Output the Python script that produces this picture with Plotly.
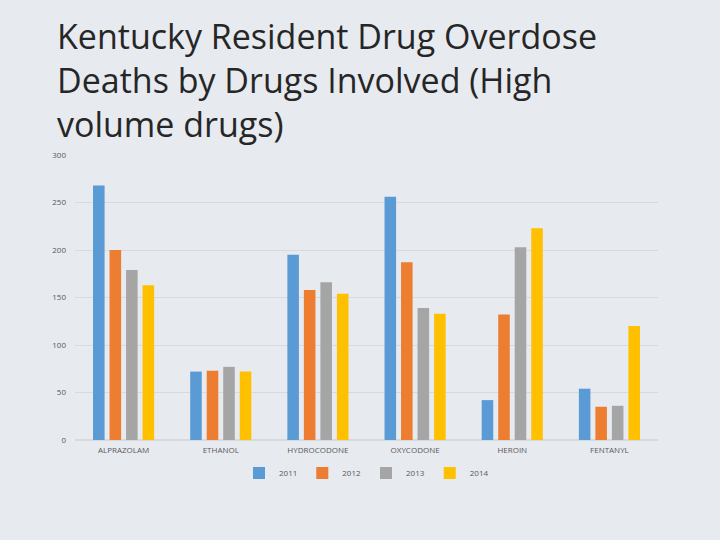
import plotly.graph_objects as go

categories = ["ALPRAZOLAM", "ETHANOL", "HYDROCODONE", "OXYCODONE", "HEROIN", "FENTANYL"]
years = ["2011", "2012", "2013", "2014"]
v2011 = [268, 72, 195, 256, 42, 54]
v2012 = [200, 73, 158, 187, 132, 35]
v2013 = [179, 77, 166, 139, 203, 36]
v2014 = [163, 72, 154, 133, 223, 120]
colors = ["#5B9BD5", "#ED7D31", "#A5A5A5", "#FFC000"]
title_text = "Kentucky Resident Drug Overdose<br>Deaths by Drugs Involved (High<br>volume drugs)"

fig = go.Figure()
for name, vals, c in zip(years, [v2011, v2012, v2013, v2014], colors):
    fig.add_trace(go.Bar(x=categories, y=vals, name=name, marker_color=c, marker_line_width=0))

fig.add_annotation(text=title_text, xref="paper", yref="paper", x=-0.034, y=1.507,
                   xanchor="left", yanchor="top", align="left", showarrow=False,
                   font=dict(family="Open Sans", size=34, color="#262626"))

fig.update_layout(
    width=720, height=540,
    paper_bgcolor="#E7EAEF", plot_bgcolor="#E7EAEF",
    margin=dict(l=75, r=62, t=155, b=100),
    barmode="group", bargap=0.32, bargroupgap=0.3,
    font=dict(family="Open Sans", size=8, color="#595959"),
    showlegend=True,
    legend=dict(orientation="h", x=0.5, xanchor="center", y=-0.065, yanchor="top",
                font=dict(size=8, color="#595959"), itemwidth=30, itemsizing="constant"),
    xaxis=dict(showgrid=False, showline=False, ticks="", ticklabelstandoff=4,
               tickfont=dict(size=8, color="#595959")),
    yaxis=dict(range=[0, 300], dtick=50, showgrid=True, gridcolor="#D6D9DE", gridwidth=1,
               zeroline=True, zerolinecolor="#D6D9DE", ticks="", ticklabelstandoff=8,
               tickfont=dict(size=8, color="#595959")),
)
fig.write_html("out.html", config={"displayModeBar": False},
               post_script="document.body.style.margin='0';")
